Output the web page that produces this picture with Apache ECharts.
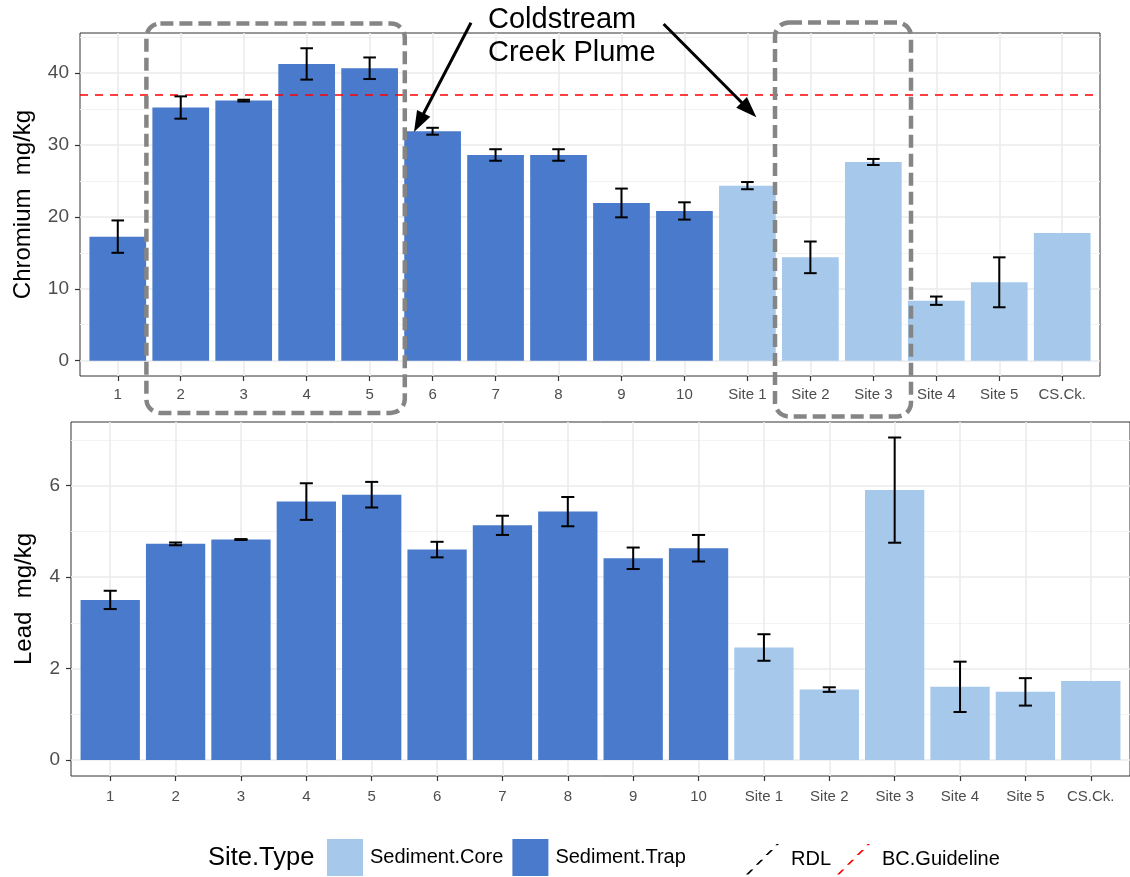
<!DOCTYPE html>
<html><head><meta charset="utf-8">
<script src="https://cdn.jsdelivr.net/npm/echarts@6/dist/echarts.min.js"></script>
<style>html,body{margin:0;padding:0;background:#fff}#c{width:1130px;height:877px}</style>
</head><body><div id="c"></div>
<script>
const categories = ['1','2','3','4','5','6','7','8','9','10','Site 1','Site 2','Site 3','Site 4','Site 5','CS.Ck.'];
const siteTypes = ['Sediment.Trap','Sediment.Trap','Sediment.Trap','Sediment.Trap','Sediment.Trap','Sediment.Trap','Sediment.Trap','Sediment.Trap','Sediment.Trap','Sediment.Trap','Sediment.Core','Sediment.Core','Sediment.Core','Sediment.Core','Sediment.Core','Sediment.Core'];
const chromium    = [17.25, 35.2, 36.16, 41.26, 40.66, 31.9, 28.6, 28.6, 21.93, 20.82, 24.34, 14.37, 27.63, 8.34, 10.9, 17.76];
const chromiumErr = [2.25, 1.55, 0.12, 2.18, 1.5, 0.48, 0.8, 0.8, 2.0, 1.2, 0.5, 2.2, 0.42, 0.58, 3.47, null];
const lead        = [3.5, 4.725, 4.82, 5.65, 5.80, 4.60, 5.13, 5.43, 4.41, 4.63, 2.46, 1.54, 5.90, 1.60, 1.49, 1.73];
const leadErr     = [0.2, 0.03, 0.01, 0.4, 0.28, 0.17, 0.21, 0.32, 0.235, 0.29, 0.29, 0.05, 1.15, 0.55, 0.30, null];
const chromiumTicks = [0, 10, 20, 30, 40];
const chromiumMinor = [5, 15, 25, 35, 45];
const leadTicks = [0, 2, 4, 6];
const leadMinor = [1, 3, 5, 7];
const bcGuideline = 37;

const FONT = '"Liberation Sans", Arial, sans-serif';
const TRAP = '#4A7ACB', CORE = '#A5C8EB';
const xPos = categories.map((c, i) => i + 1);

function barData(vals, type) {
  return vals.map((v, i) => siteTypes[i] === type ? [i + 1, v] : null).filter(Boolean);
}
function errData(vals, errs) {
  return vals.map((v, i) => errs[i] == null ? null : [i + 1, v - errs[i], v + errs[i]]).filter(Boolean);
}
function renderErr(params, api) {
  const x = api.value(0), lo = api.value(1), hi = api.value(2);
  const pLo = api.coord([x, lo]), pHi = api.coord([x, hi]);
  const hw = api.size([0.1, 0])[0];
  const st = { stroke: '#000', lineWidth: 2 };
  return { type: 'group', children: [
    { type: 'line', shape: { x1: pLo[0], y1: pLo[1], x2: pHi[0], y2: pHi[1] }, style: st },
    { type: 'line', shape: { x1: pLo[0] - hw, y1: pLo[1], x2: pLo[0] + hw, y2: pLo[1] }, style: st },
    { type: 'line', shape: { x1: pHi[0] - hw, y1: pHi[1], x2: pHi[0] + hw, y2: pHi[1] }, style: st }
  ]};
}
function xAxisFor(gi, margin) {
  return {
    type: 'value', gridIndex: gi, min: 0.4, max: 16.6,
    axisLine: { show: false, onZero: false },
    axisTick: { show: true, customValues: xPos, length: 5, lineStyle: { color: '#333', width: 1.2 } },
    axisLabel: { customValues: xPos, formatter: v => categories[Math.round(v) - 1], color: '#4D4D4D',
      fontSize: 15, fontFamily: FONT, margin: margin },
    splitLine: { show: true, lineStyle: { color: '#EBEBEB', width: 1.6 } }
  };
}
function yAxisFor(gi, min, max, ticks, name, gap) {
  return {
    type: 'value', gridIndex: gi, min: min, max: max, position: 'left',
    axisLine: { show: false, onZero: false },
    axisTick: { show: true, customValues: ticks, length: 5, lineStyle: { color: '#333', width: 1.2 } },
    axisLabel: { customValues: ticks, color: '#4D4D4D', fontSize: 19, fontFamily: FONT, margin: 11 },
    splitLine: { show: true, lineStyle: { color: '#EBEBEB', width: 1.6 } },
    name: name, nameLocation: 'middle', nameGap: gap,
    nameTextStyle: { fontSize: 24, color: '#000', fontFamily: FONT }
  };
}
function minorAxisFor(gi, min, max, ticks) {
  return {
    type: 'value', gridIndex: gi, min: min, max: max, position: 'left',
    axisLine: { show: false }, axisTick: { show: false, customValues: ticks },
    axisLabel: { show: false, customValues: ticks },
    splitLine: { show: true, lineStyle: { color: '#F3F3F3', width: 1 } }
  };
}

const series = [];
[[chromium, chromiumErr, 56.7], [lead, leadErr, 59.3]].forEach(([vals, errs, bw], gi) => {
  series.push({ type: 'bar', name: 'Sediment.Trap', xAxisIndex: gi, yAxisIndex: gi * 2, barWidth: bw, barGap: '-100%',
    itemStyle: { color: TRAP }, data: barData(vals, 'Sediment.Trap'), silent: true });
  series.push({ type: 'bar', name: 'Sediment.Core', xAxisIndex: gi, yAxisIndex: gi * 2, barWidth: bw, barGap: '-100%',
    itemStyle: { color: CORE }, data: barData(vals, 'Sediment.Core'), silent: true });
  series.push({ type: 'custom', name: 'err' + gi, xAxisIndex: gi, yAxisIndex: gi * 2, renderItem: renderErr,
    encode: { x: 0, y: [1, 2] }, data: errData(vals, errs), z: 5, silent: true });
});
series.push({ type: 'line', name: 'BC.Guideline', xAxisIndex: 0, yAxisIndex: 0, data: [],
  color: '#FF0000', itemStyle: { color: '#FF0000' }, lineStyle: { color: '#FF0000' },
  markLine: { silent: true, symbol: ['none', 'none'], label: { show: false }, animation: false,
    lineStyle: { color: '#FF0000', type: [8, 7], width: 1.6 }, data: [{ yAxis: bcGuideline }] } });
series.push({ type: 'line', name: 'RDL', xAxisIndex: 0, yAxisIndex: 0, data: [],
  color: '#000', itemStyle: { color: '#000' }, lineStyle: { color: '#000' } });

const dashIcon = 'path://M-1.4,36L1.4,36L7.4,30L4.6,30Z M10.1,24.5L12.9,24.5L18.9,18.5L16.1,18.5Z M21.6,13L24.4,13L30.4,7L27.6,7Z M33.1,1.5L35.9,1.5L37.4,0L34.6,0Z';

function arrow(x1, y1, x2, y2) {
  const dx = x2 - x1, dy = y2 - y1, L = Math.hypot(dx, dy), ux = dx / L, uy = dy / L;
  const hl = 21, hw = 7.5;
  const bx = x2 - ux * hl, by = y2 - uy * hl;
  return [
    { type: 'line', z: 100, shape: { x1: x1, y1: y1, x2: bx + ux * 3, y2: by + uy * 3 }, style: { stroke: '#000', lineWidth: 3 } },
    { type: 'polygon', z: 100, shape: { points: [[x2, y2], [bx - uy * hw, by + ux * hw], [bx + uy * hw, by - ux * hw]] }, style: { fill: '#000' } }
  ];
}
const boxStyle = { fill: 'none', stroke: '#858585', lineWidth: 4.5, lineDash: [13, 6] };

const option = {
  animation: false,
  backgroundColor: '#fff',
  grid: [
    { left: 80, top: 33, width: 1020, height: 343, show: true, borderColor: '#333', borderWidth: 1, backgroundColor: 'transparent' },
    { left: 71, top: 422, width: 1068, height: 354, show: true, borderColor: '#333', borderWidth: 1, backgroundColor: 'transparent' }
  ],
  xAxis: [xAxisFor(0, 11), xAxisFor(1, 13)],
  yAxis: [
    yAxisFor(0, -2.127, 45.56, chromiumTicks, 'Chromium  mg/kg', 45),
    minorAxisFor(0, -2.127, 45.56, chromiumMinor),
    yAxisFor(1, -0.349, 7.389, leadTicks, 'Lead  mg/kg', 35),
    minorAxisFor(1, -0.349, 7.389, leadMinor)
  ],
  legend: [
    { left: 322, top: 834, itemWidth: 36, itemHeight: 37, itemGap: 9, selectedMode: false,
      data: [{ name: 'Sediment.Core', icon: 'rect' }, { name: 'Sediment.Trap', icon: 'rect' }],
      textStyle: { fontSize: 20, color: '#000', fontFamily: FONT, padding: [0, 0, 0, 2] } },
    { left: 741, top: 839, itemWidth: 33, itemHeight: 31, itemGap: 6, selectedMode: false,
      itemStyle: { borderWidth: 0 },
      data: [{ name: 'RDL', icon: dashIcon }, { name: 'BC.Guideline', icon: dashIcon }],
      textStyle: { fontSize: 20, color: '#000', fontFamily: FONT, padding: [0, 0, 0, 7] } }
  ],
  graphic: [
    { type: 'text', x: 208, y: 858, z: 100, style: { text: 'Site.Type', fontSize: 25.5, fontFamily: FONT, fill: '#000', verticalAlign: 'middle' } },
    { type: 'text', x: 488, y: 3, z: 100, style: { text: 'Coldstream\nCreek Plume', fontSize: 29, lineHeight: 33, fontFamily: FONT, fill: '#000', verticalAlign: 'top' } },
    { type: 'rect', z: 100, shape: { x: 146.4, y: 23.5, width: 258.4, height: 389.5, r: 14 }, style: boxStyle },
    { type: 'rect', z: 100, shape: { x: 775, y: 22.5, width: 136, height: 394, r: 14 }, style: boxStyle }
  ].concat(arrow(471, 22.7, 414, 132), arrow(663.6, 24, 756.4, 117.3)),
  series: series
};
const chart = echarts.init(document.getElementById('c'), null, { renderer: 'canvas' });
chart.setOption(option);
</script>
</body></html>
